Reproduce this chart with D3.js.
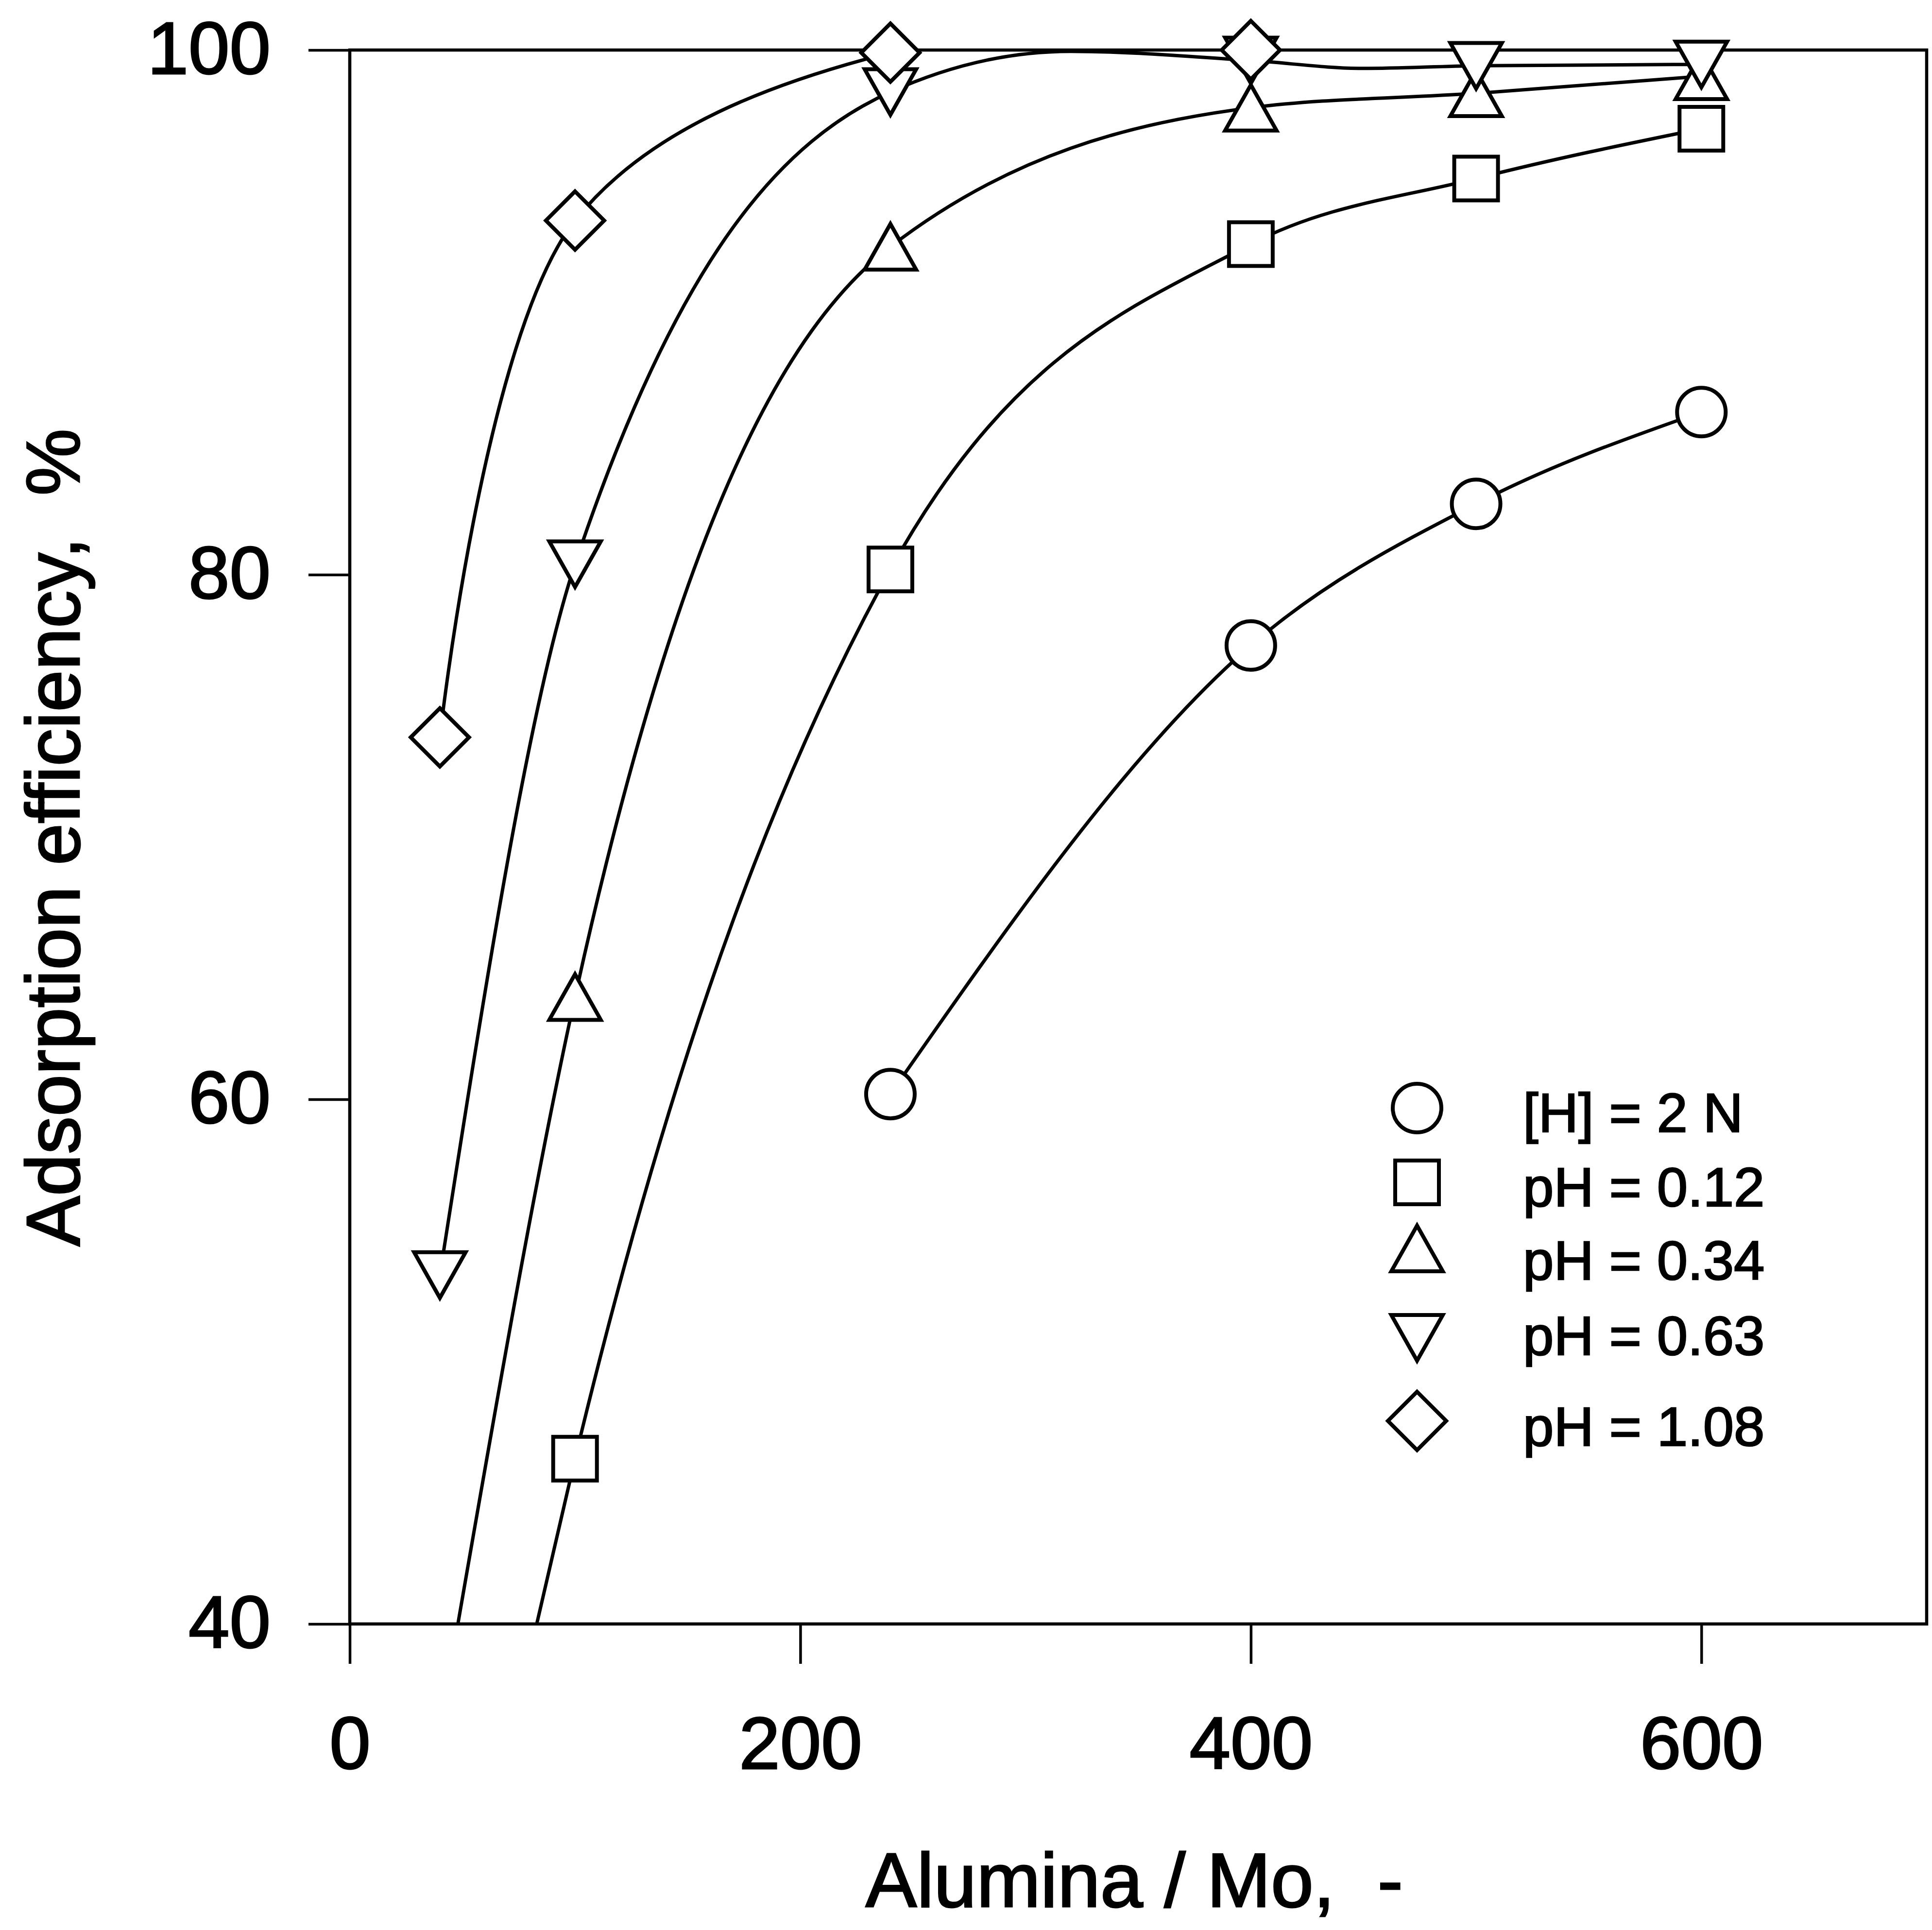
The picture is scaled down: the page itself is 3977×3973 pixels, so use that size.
<!DOCTYPE html>
<html>
<head>
<meta charset="utf-8">
<script src="https://cdn.jsdelivr.net/npm/d3@7"></script>
<style>
  html, body { margin: 0; padding: 0; background: #fff; }
  svg { display: block; }
  text { font-family: "Liberation Sans", Arial, Helvetica, sans-serif; fill: #000; }
</style>
</head>
<body>
<svg id="chart"></svg>
<script>
// ---- axis ticks ----
const xTicks = [0, 200, 400, 600];
const yTicks = [40, 60, 80, 100];

// ---- series labels & symbols ----
const seriesNames = ["[H] = 2 N", "pH = 0.12", "pH = 0.34", "pH = 0.63", "pH = 1.08"];
const seriesSymbols = ["circle", "square", "triangleUp", "triangleDown", "diamond"];

// ---- measured points (Alumina/Mo ratio vs adsorption efficiency, %) ----
const xH2N   = [240, 400, 500, 600];
const yH2N   = [60.2, 77.3, 82.7, 86.2];
const xPH012 = [100, 240, 400, 500, 600];
const yPH012 = [46.3, 80.2, 92.6, 95.1, 97.0];
const xPH034 = [100, 240, 400, 500, 600];
const yPH034 = [63.9, 92.5, 97.8, 98.35, 99.0];
const xPH063 = [40, 100, 240, 400, 500, 600];
const yPH063 = [53.3, 80.4, 98.4, 99.6, 99.4, 99.45];
const xPH108 = [40, 100, 240, 400];
const yPH108 = [73.8, 93.5, 99.9, 100.0];

// ---- smoothed trend lines (the 0.12 and 0.34 traces run down to the axis) ----
const lineX_H2N   = [240, 400, 500, 600];
const lineY_H2N   = [60.2, 77.3, 82.7, 86.2];
const lineX_PH012 = [83, 100, 240, 400, 500, 600];
const lineY_PH012 = [40, 46.3, 80.2, 92.6, 95.1, 97.0];
const lineX_PH034 = [48, 100, 240, 400, 500, 600];
const lineY_PH034 = [40, 63.9, 92.5, 97.8, 98.35, 99.0];
const lineX_PH063 = [40, 100, 240, 320, 400, 450, 500, 600];
const lineY_PH063 = [53.3, 80.4, 98.4, 99.95, 99.6, 99.3, 99.4, 99.45];
const lineX_PH108 = [40, 100, 240, 400];
const lineY_PH108 = [73.8, 93.5, 99.9, 100.0];

const pointsX = [xH2N, xPH012, xPH034, xPH063, xPH108];
const pointsY = [yH2N, yPH012, yPH034, yPH063, yPH108];
const linesX  = [lineX_H2N, lineX_PH012, lineX_PH034, lineX_PH063, lineX_PH108];
const linesY  = [lineY_H2N, lineY_PH012, lineY_PH034, lineY_PH063, lineY_PH108];

// ---- layout & style ----
const W = 3977, H = 3973;
const plot = { left: 720, right: 3966, top: 103, bottom: 3343 };
// smoothing used for each trace
const curveFactory = [
  d3.curveMonotoneX,
  d3.curveMonotoneX,
  d3.curveMonotoneX,
  d3.curveMonotoneX,
  d3.curveCatmullRom.alpha(0.5)
];

const svg = d3.select("#chart").attr("width", W).attr("height", H)
  .attr("viewBox", `0 0 ${W} ${H}`);
svg.append("rect").attr("width", W).attr("height", H).attr("fill", "#fff");

const x = d3.scaleLinear().domain([0, 700]).range([plot.left, plot.right]);
const y = d3.scaleLinear().domain([40, 100]).range([plot.bottom, plot.top]);

// ---- marker shapes (open symbols, sizes in px) ----
function shape(kind) {
  return {
    draw(ctx) {
      if (kind === "circle") {
        const r = 50;
        ctx.moveTo(r, 0); ctx.arc(0, 0, r, 0, 2 * Math.PI);
      } else if (kind === "square") {
        const h = 45;
        ctx.moveTo(-h, -h); ctx.lineTo(h, -h); ctx.lineTo(h, h); ctx.lineTo(-h, h); ctx.closePath();
      } else if (kind === "triangleUp") {
        const w = 53, hh = 47;
        ctx.moveTo(0, -hh); ctx.lineTo(w, hh); ctx.lineTo(-w, hh); ctx.closePath();
      } else if (kind === "triangleDown") {
        const w = 53, hh = 47;
        ctx.moveTo(-w, -hh); ctx.lineTo(w, -hh); ctx.lineTo(0, hh); ctx.closePath();
      } else if (kind === "diamond") {
        const r = 60;
        ctx.moveTo(0, -r); ctx.lineTo(r, 0); ctx.lineTo(0, r); ctx.lineTo(-r, 0); ctx.closePath();
      }
    }
  };
}
const symbolPath = kind => d3.symbol().type(shape(kind))();

// ---- clip region for the trend lines ----
svg.append("defs").append("clipPath").attr("id", "plotClip")
  .append("rect")
  .attr("x", plot.left).attr("y", plot.top)
  .attr("width", plot.right - plot.left).attr("height", plot.bottom - plot.top);

// ---- axes ----
const fontTick = 152;
const yAxis = d3.axisLeft(y).tickValues(yTicks).tickSize(85).tickPadding(78).tickFormat(d3.format("d"));
const xAxis = d3.axisBottom(x).tickValues(xTicks).tickSize(82).tickPadding(108).tickFormat(d3.format("d"));

const gy = svg.append("g").attr("transform", `translate(${plot.left},0)`).call(yAxis);
const gx = svg.append("g").attr("transform", `translate(0,${plot.bottom})`).call(xAxis);
[gy, gx].forEach(g => {
  g.attr("font-family", null).attr("font-size", null);
  g.select(".domain").remove();
  g.selectAll(".tick line").attr("stroke", "#000").attr("stroke-width", 5.5);
  g.selectAll(".tick text").attr("font-size", fontTick).attr("fill", "#000")
    .attr("stroke", "#000").attr("stroke-width", 3);
});

// ---- frame ----
svg.append("rect")
  .attr("x", plot.left).attr("y", plot.top)
  .attr("width", plot.right - plot.left).attr("height", plot.bottom - plot.top)
  .attr("fill", "none").attr("stroke", "#000").attr("stroke-width", 6.5);

// ---- trend lines ----
const gLines = svg.append("g").attr("clip-path", "url(#plotClip)");
linesX.forEach((lx, i) => {
  const pts = lx.map((v, k) => [v, linesY[i][k]]);
  const line = d3.line()
    .x(d => x(d[0])).y(d => y(d[1]))
    .curve(curveFactory[i]);
  gLines.append("path")
    .attr("d", line(pts))
    .attr("fill", "none").attr("stroke", "#000").attr("stroke-width", 7)
    .attr("stroke-linejoin", "round");
});

// ---- markers ----
const gPts = svg.append("g");
pointsX.forEach((px, i) => {
  const d = symbolPath(seriesSymbols[i]);
  px.forEach((v, k) => {
    gPts.append("path")
      .attr("d", d)
      .attr("transform", `translate(${x(v)},${y(pointsY[i][k])})`)
      .attr("fill", "#fff").attr("stroke", "#000").attr("stroke-width", 8);
  });
});

// ---- legend ----
const legend = { symbolX: 2917, textX: 3135,
  symbolY: [2281, 2434, 2570, 2754, 2925],
  textY:   [2330, 2483, 2634, 2789, 2976] };
const gLeg = svg.append("g");
seriesNames.forEach((name, i) => {
  gLeg.append("path")
    .attr("d", symbolPath(seriesSymbols[i]))
    .attr("transform", `translate(${legend.symbolX},${legend.symbolY[i]})`)
    .attr("fill", "#fff").attr("stroke", "#000").attr("stroke-width", 8);
  gLeg.append("text")
    .attr("x", legend.textX).attr("y", legend.textY[i])
    .attr("font-size", 114)
    .attr("stroke", "#000").attr("stroke-width", 2.5)
    .text(name);
});

// ---- axis titles ----
svg.append("text")
  .attr("x", 2335).attr("y", 3925)
  .attr("text-anchor", "middle").attr("font-size", 158)
  .attr("stroke", "#000").attr("stroke-width", 3)
  .style("white-space", "pre")
  .text("Alumina / Mo,  -");

svg.append("text")
  .attr("transform", `translate(163,1724) rotate(-90)`)
  .attr("text-anchor", "middle").attr("font-size", 155)
  .attr("stroke", "#000").attr("stroke-width", 3)
  .style("white-space", "pre")
  .text("Adsorption efficiency,  %");
</script>
</body>
</html>
